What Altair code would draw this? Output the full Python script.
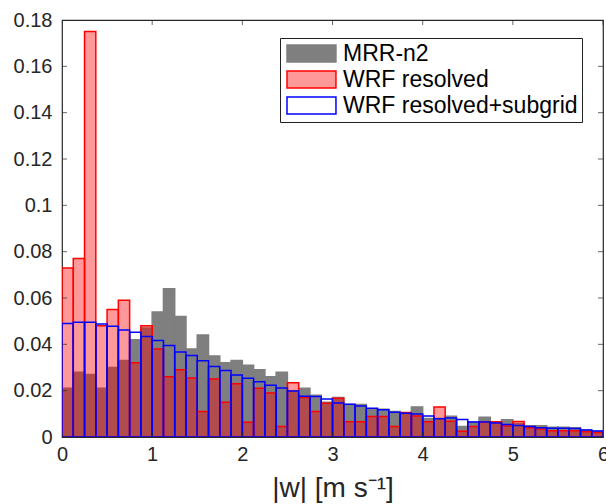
import altair as alt
import pandas as pd

BIN_W = 0.125

mrr = [0.021, 0.028, 0.027, 0.021, 0.030, 0.033, 0.042, 0.047, 0.054, 0.064,
       0.052, 0.038, 0.044, 0.035, 0.032, 0.033, 0.031, 0.029, 0.026, 0.028,
       0.020, 0.021, 0.018, 0.015, 0.017, 0.014, 0.014, 0.012, 0.012, 0.011,
       0.0105, 0.013, 0.008, 0.008, 0.009, 0.0045, 0.0065, 0.0085, 0.0062, 0.0074,
       0.0058, 0.0049, 0.0049, 0.0042, 0.0042, 0.004, 0.003, 0.0025]

wrf_res = [0.073, 0.077, 0.175, 0.048, 0.055, 0.059, 0.032, 0.048, 0.038, 0.026,
           0.029, 0.0255, 0.011, 0.025, 0.015, 0.023, 0.0064, 0.021, 0.019, 0.0045,
           0.0234, 0.017, 0.011, 0.0146, 0.0167, 0.0066, 0.0066, 0.0088, 0.0088, 0.0045,
           0.0106, 0.0091, 0.0066, 0.013, 0.0068, 0.0025, 0.0045, 0.0065, 0.0066, 0.0047,
           0.0067, 0.004, 0.0035, 0.0027, 0.0027, 0.0027, 0.0023, 0.0019]

wrf_sub = [0.049, 0.0495, 0.0495, 0.0488, 0.0478, 0.0462, 0.0452, 0.0434, 0.0417, 0.0395,
           0.0367, 0.0352, 0.0329, 0.0304, 0.0287, 0.0268, 0.0254, 0.0238, 0.0223, 0.0211,
           0.0199, 0.0176, 0.0175, 0.0164, 0.0147, 0.0141, 0.0134, 0.0124, 0.0118, 0.0107,
           0.0102, 0.0099, 0.0091, 0.0079, 0.0082, 0.0076, 0.0065, 0.0065, 0.006, 0.0054,
           0.005, 0.0045, 0.004, 0.0038, 0.0038, 0.0037, 0.003, 0.0026]

series_names = ["MRR-n2", "WRF resolved", "WRF resolved+subgrid"]
x_ticks = [0, 1, 2, 3, 4, 5, 6]
y_ticks = [0, 0.02, 0.04, 0.06, 0.08, 0.1, 0.12, 0.14, 0.16, 0.18]

rows = []
for name, vals in zip(series_names, [mrr, wrf_res, wrf_sub]):
    for i, v in enumerate(vals):
        rows.append({"series": name, "x0": i * BIN_W, "x1": (i + 1) * BIN_W, "p": v})
df = pd.DataFrame(rows)

W, H = 541, 417
FONT = "Liberation Sans"
TXT = "#262626"

xscale = alt.Scale(domain=[0, 6], nice=False, zero=False)
yscale = alt.Scale(domain=[0, 0.18], nice=False)

SYM = "M-1,-1L4.76,-1L4.76,1L-1,1Z"
legend_kw = dict(title=None, orient="none", legendX=218, legendY=18,
                 symbolType=SYM, symbolSize=289, symbolStrokeWidth=1.5,
                 labelFont=FONT, labelFontSize=23, labelColor="#000",
                 labelOffset=36, rowPadding=2, padding=4,
                 strokeColor="#222", fillColor="white", labelLimit=400)

bars = alt.Chart(df).mark_bar(strokeWidth=1.5, clip=True).encode(
    x=alt.X("x0:Q", scale=xscale,
            axis=alt.Axis(values=x_ticks, ticks=False, domain=False, grid=False,
                          labelFontSize=20, labelFont=FONT, labelColor=TXT,
                          labelPadding=7, format="~g", title="|w| [m s⁻¹]", titleFont=FONT,
                          titleFontSize=28, titleFontWeight="normal", titleColor=TXT,
                          titlePadding=10, labelFlush=False)),
    x2="x1:Q",
    y=alt.Y("p:Q", scale=yscale, stack=None,
            axis=alt.Axis(values=y_ticks, ticks=False, domain=False, grid=False,
                          labelFontSize=20, labelFont=FONT, labelColor=TXT,
                          labelPadding=10, format="~g", title=None, labelFlush=False)),
    y2=alt.datum(0),
    fill=alt.Fill("series:N", sort=series_names,
                  scale=alt.Scale(domain=series_names,
                                  range=["#7f7f7f", "rgba(255,0,0,0.4)", "rgba(255,255,255,0)"]),
                  legend=alt.Legend(**legend_kw)),
    stroke=alt.Stroke("series:N", sort=series_names,
                      scale=alt.Scale(domain=series_names,
                                      range=["#7f7f7f", "#ff0000", "#0000ff"]),
                      legend=alt.Legend(**legend_kw)),
)

xt = pd.DataFrame({"t": x_ticks})
yt = pd.DataFrame({"t": y_ticks})

xtick_bot = alt.Chart(xt).mark_tick(orient="vertical", size=10, thickness=1,
                                    color=TXT, clip=True).encode(
    x=alt.X("t:Q", scale=xscale), y=alt.value(H))
xtick_top = alt.Chart(xt).mark_tick(orient="vertical", size=10, thickness=1,
                                    color=TXT, clip=True).encode(
    x=alt.X("t:Q", scale=xscale), y=alt.value(0))
ytick_l = alt.Chart(yt).mark_tick(orient="horizontal", size=10, thickness=1,
                                  color=TXT, clip=True).encode(
    y=alt.Y("t:Q", scale=yscale), x=alt.value(0))
ytick_r = alt.Chart(yt).mark_tick(orient="horizontal", size=10, thickness=1,
                                  color=TXT, clip=True).encode(
    y=alt.Y("t:Q", scale=yscale), x=alt.value(W))

chart = alt.layer(bars, xtick_bot, xtick_top, ytick_l, ytick_r).properties(
    width=W, height=H,
    autosize=alt.AutoSizeParams(type="none"),
    padding={"left": 62, "top": 20, "right": 3, "bottom": 67},
    background="white",
).configure_view(stroke=TXT, strokeWidth=1.2)

chart.save("out.html", embed_options={"renderer": "svg", "actions": False})
